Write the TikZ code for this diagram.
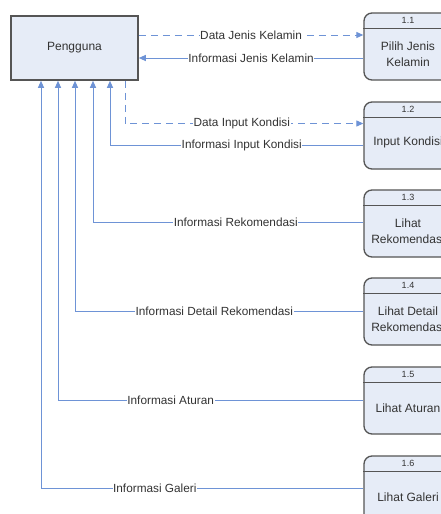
\documentclass[tikz,border=0pt]{standalone}
\usepackage{fontspec}
\setmainfont{Liberation Sans}
\usetikzlibrary{arrows.meta}
\definecolor{boxfill}{HTML}{E6ECF7}
\definecolor{boxedge}{HTML}{555555}
\definecolor{flow}{HTML}{6E93D6}
\definecolor{txt}{HTML}{333333}
\tikzset{
  ent/.style={draw=boxedge, line width=1.6pt, fill=boxfill, minimum width=127pt, minimum height=64pt, inner sep=0pt, text=txt, font=\fontsize{12}{14}\selectfont},
  proc/.style={draw=boxedge, line width=1.3pt, fill=boxfill, rounded corners=8pt, minimum width=88pt, minimum height=67pt, inner sep=0pt},
  procline/.style={draw=boxedge, line width=1.1pt},
  num/.style={text=txt, font=\fontsize{9}{10}\selectfont, inner sep=0pt},
  ptxt/.style={text=txt, font=\fontsize{12}{16}\selectfont, align=center, inner sep=0pt},
  info/.style={draw=flow, line width=1pt, -{Triangle[length=7pt,width=6pt]}},
  data/.style={info, dash pattern=on 7pt off 5pt},
  lbl/.style={fill=white, text=txt, inner sep=0.6pt, font=\fontsize{11.8}{13}\selectfont, sloped=false}
}
\begin{document}
\begin{tikzpicture}[x=1pt, y=-1pt]
\clip (0,0) rectangle (441,514);
\fill[white] (0,0) rectangle (441,514);
% entity
\node[ent] (peng) at (74.5,48) {Pengguna};
% processes
\foreach \n/\y in {1/46.5,2/135.5,3/223.5,4/311.5,5/400.5,6/489.5}{
  \node[proc] (p\n) at (408,\y) {};
  \draw[procline] ([yshift=-16pt]p\n.north west) -- ([yshift=-16pt]p\n.north east);
  \node[num] at ([yshift=-8.5pt]p\n.north) {1.\n};
}
\node[ptxt] at ([yshift=-41.5pt]p1.north) {Pilih Jenis\\Kelamin};
\node[ptxt] at ([yshift=-41.5pt]p2.north) {Input Kondisi};
\node[ptxt] at ([yshift=-41.5pt]p3.north) {Lihat\\Rekomendasi};
\node[ptxt] at ([yshift=-41.5pt]p4.north) {Lihat Detail\\Rekomendasi};
\node[ptxt] at ([yshift=-41.5pt]p5.north) {Lihat Aturan};
\node[ptxt] at ([yshift=-41.5pt]p6.north) {Lihat Galeri};
% helper coordinates
\coordinate (a1) at (138,35);
\coordinate (a2) at (138,58);
\coordinate (v0) at (125,123.5);
\coordinate (v1) at (110,145.5);
\coordinate (v2) at (93,222.7);
\coordinate (v3) at (75,311);
\coordinate (v4) at (58,400);
\coordinate (v5) at (41,488.5);
% flows
\draw[data] (peng.east |- a1) -- node[lbl] {Data Jenis Kelamin} (p1.west |- a1);
\draw[info] (p1.west |- a2) -- node[lbl] {Informasi Jenis Kelamin} (peng.east |- a2);
\draw[data] (v0 |- peng.south) -- (v0) -- node[lbl, pos=0.49] {Data Input Kondisi} (p2.west |- v0);
\draw[info] (p2.west |- v1) -- node[lbl, pos=0.48] {Informasi Input Kondisi} (v1) -- (v1 |- peng.south);
\draw[info] (p3.west |- v2) -- node[lbl, pos=0.472] {Informasi Rekomendasi} (v2) -- (v2 |- peng.south);
\draw[info] (p4.west |- v3) -- node[lbl, pos=0.517] {Informasi Detail Rekomendasi} (v3) -- (v3 |- peng.south);
\draw[info] (p5.west |- v4) -- node[lbl, pos=0.631] {Informasi Aturan} (v4) -- (v4 |- peng.south);
\draw[info] (p6.west |- v5) -- node[lbl, pos=0.647] {Informasi Galeri} (v5) -- (v5 |- peng.south);
\end{tikzpicture}
\end{document}
